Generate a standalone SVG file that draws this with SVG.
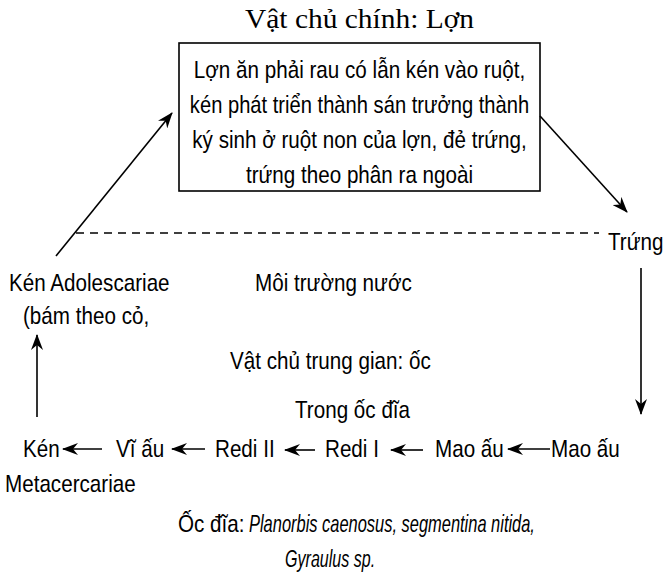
<svg xmlns="http://www.w3.org/2000/svg" width="664" height="583" viewBox="0 0 664 583">
<style>
text{font-family:"Liberation Sans Narrow","Arial Narrow","Liberation Sans",sans-serif;font-size:24px;fill:#000}
.ser{font-family:"Liberation Serif","Times New Roman",serif;font-size:27px}
.c{text-anchor:middle}
.it{font-style:italic}
.ln{stroke:#000;stroke-width:1.6;fill:none}
.dash{stroke:#000;stroke-width:1.4;stroke-dasharray:8,6;fill:none}
</style>
<defs>
<marker id="ah" viewBox="0 0 16 12" refX="15" refY="6" markerWidth="16" markerHeight="12" orient="auto" markerUnits="userSpaceOnUse">
<path d="M0,0 L16,6 L0,12 L5,6 Z" fill="#000"/>
</marker>
</defs>
<g id="title"><text class="ser c" x="359.5" y="28" textLength="229" lengthAdjust="spacingAndGlyphs">Vật chủ chính: Lợn</text></g>
<g id="box">
<rect x="179" y="43" width="361" height="148" fill="#fff" stroke="#000" stroke-width="1.6"/>
<text class="c" transform="translate(359.5,78) scale(0.86,1)">Lợn ăn phải rau có lẫn kén vào ruột,</text>
<text class="c" transform="translate(359.5,113) scale(0.84,1)">kén phát triển thành sán trưởng thành</text>
<text class="c" transform="translate(359.5,148) scale(0.86,1)">ký sinh ở ruột non của lợn, đẻ trứng,</text>
<text class="c" transform="translate(359.5,183) scale(0.86,1)">trứng theo phân ra ngoài</text>
</g>
<g id="trung"><text transform="translate(608,250) scale(0.86,1)">Trứng</text></g>
<g id="adolescariae">
<text transform="translate(9,291) scale(0.86,1)">Kén Adolescariae</text>
<text transform="translate(23,324) scale(0.86,1)">(bám theo cỏ,</text>
</g>
<g id="moitruong"><text transform="translate(255,291) scale(0.86,1)">Môi trường nước</text></g>
<g id="vatchu"><text transform="translate(230,369) scale(0.86,1)">Vật chủ trung gian: ốc</text></g>
<g id="trongoc"><text transform="translate(295,418) scale(0.86,1)">Trong ốc đĩa</text></g>
<g id="ken">
<text transform="translate(23,457) scale(0.86,1)">Kén</text>
<text transform="translate(5,492) scale(0.86,1)">Metacercariae</text>
</g>
<g id="viau"><text transform="translate(116,457) scale(0.86,1)">Vĩ ấu</text></g>
<g id="redi2"><text transform="translate(215,457) scale(0.86,1)">Redi II</text></g>
<g id="redi1"><text transform="translate(325,457) scale(0.86,1)">Redi I</text></g>
<g id="maoau1"><text transform="translate(435,457) scale(0.86,1)">Mao ấu</text></g>
<g id="maoau2"><text transform="translate(551,457) scale(0.86,1)">Mao ấu</text></g>
<g id="ocdia">
<text transform="translate(178,532) scale(0.86,1)">Ốc đĩa:</text>
<text class="it" transform="translate(249,532) scale(0.685,1)">Planorbis caenosus, segmentina nitida,</text>
<text class="it" transform="translate(285,567) scale(0.67,1)">Gyraulus sp.</text>
</g>
<g id="connectors">
<line class="dash" x1="76" y1="233" x2="599" y2="233"/>
<line class="ln" x1="56" y1="256" x2="172" y2="113" marker-end="url(#ah)"/>
<line class="ln" x1="540" y1="116" x2="627" y2="212" marker-end="url(#ah)"/>
<line class="ln" x1="641" y1="268" x2="641" y2="414" marker-end="url(#ah)"/>
<line class="ln" x1="37" y1="417" x2="37" y2="335" marker-end="url(#ah)"/>
<line class="ln" x1="102" y1="449" x2="63" y2="449" marker-end="url(#ah)"/>
<line class="ln" x1="205" y1="449" x2="172" y2="449" marker-end="url(#ah)"/>
<line class="ln" x1="315" y1="450" x2="285" y2="450" marker-end="url(#ah)"/>
<line class="ln" x1="423" y1="450" x2="391" y2="450" marker-end="url(#ah)"/>
<line class="ln" x1="550" y1="449" x2="508" y2="449" marker-end="url(#ah)"/>
</g>
</svg>
